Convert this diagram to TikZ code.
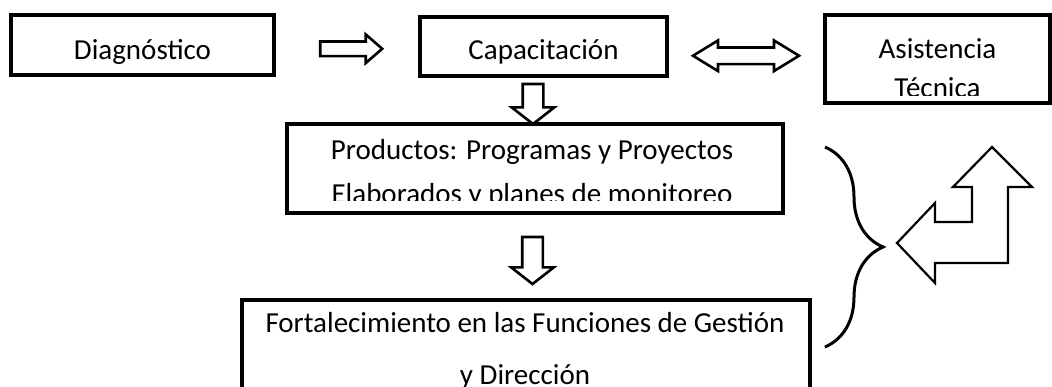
\documentclass[tikz,border=0pt]{standalone}
\usepackage{fontspec}
\setmainfont{Carlito}
\usetikzlibrary{positioning,calc,shapes.arrows,decorations.pathreplacing}
\newdimen\flpx
\setlength{\flpx}{1pt}
\tikzstyle{flboxstyle}=[shape=rectangle,draw,line width=3.2\flpx,inner sep=0pt]
\tikzstyle{fltextstyle}=[inner sep=0pt,font=\fontsize{29}{35}\selectfont]
\tikzstyle{flarrowstyle}=[draw,line width=2.6\flpx,inner xsep=0pt,minimum width=0pt]
\tikzstyle{flbracestyle}=[line width=3\flpx,decorate,decoration={brace,amplitude=58\flpx}]
\newcommand{\flbox}[5]{ \node[style=flboxstyle,minimum width=#4\flpx,minimum height=#5\flpx] (#1) at (#2,#3) {}; }
\newcommand{\fltext}[4]{ \node[style=fltextstyle,anchor=base] (#1) at (#2,#3) {#4}; }
\newcommand{\flcliptext}[6]{ \begin{scope} \clip (#1.north west) rectangle (#1.east |- 0,#6); \fltext{#2}{#3}{#4}{#5} \end{scope} }

\begin{document}
\begin{tikzpicture}[x=\flpx,y=-\flpx]
\useasboundingbox (0,0) rectangle (1052,386);

\flbox{diag}{142.5}{45}{263}{60} %
\flbox{capac}{543.5}{46.5}{247}{59} %
\flbox{asist}{937.5}{59}{225}{88} %
\flbox{prod}{535}{168.5}{496}{89} %
\flbox{fort}{526}{347.5}{568}{95} %
\fltext{diagA}{142.5}{59}{Diagnóstico} %
\fltext{capacA}{543.5}{59}{Capacitación} %
\fltext{asistA}{937.5}{58}{Asistencia} %
\flcliptext{asist}{asistB}{937.5}{97}{Técnica}{95} %
\fltext{prodA}{532}{159}{Productos: Programas y Proyectos} %
\flcliptext{prod}{prodB}{532}{203}{Elaborados y planes de monitoreo}{200} %
\fltext{fortA}{525}{332}{Fortalecimiento en las Funciones de Gestión} %
\fltext{fortB}{525}{384}{y Dirección} %

% block arrows between the boxes
\node[style=flarrowstyle,single arrow,inner ysep=6\flpx,single arrow head extend=7\flpx,single arrow tip angle=82,minimum height=62\flpx] (diag2capac) at ($(diag.east)!0.5!(capac.west)+(0,3)$) {}; %
\node[style=flarrowstyle,double arrow,inner ysep=7\flpx,double arrow head extend=7\flpx,double arrow tip angle=63,minimum height=106\flpx] (capac2asist) at ($(capac.east)!0.5!(asist.west)+(0,3)$) {}; %
\node[style=flarrowstyle,single arrow,rotate=-90,inner ysep=9\flpx,single arrow head extend=11\flpx,single arrow tip angle=104,minimum height=40\flpx] (capac2prod) at ($(capac.south -| prod.north)!0.5!(prod.north)+(-2,0)$) {}; %
\node[style=flarrowstyle,single arrow,rotate=-90,inner ysep=9\flpx,single arrow head extend=11\flpx,single arrow tip angle=104,minimum height=47\flpx] (prod2fort) at ($(prod.south)!0.5!(fort.north)+(2,0)$) {}; %

% brace and bent arrow on the right
\draw[style=flbracestyle] (825,147) -- (825,347); %
\draw[line width=2.2\flpx,line join=miter] (897,243) -- (935,203) -- (935,222) -- (972,222) -- (972,187) -- (953,187) -- (992,147) -- (1032,187) -- (1008,187) -- (1008,263) -- (935,263) -- (935,283) -- cycle; %
\end{tikzpicture}
\end{document}
